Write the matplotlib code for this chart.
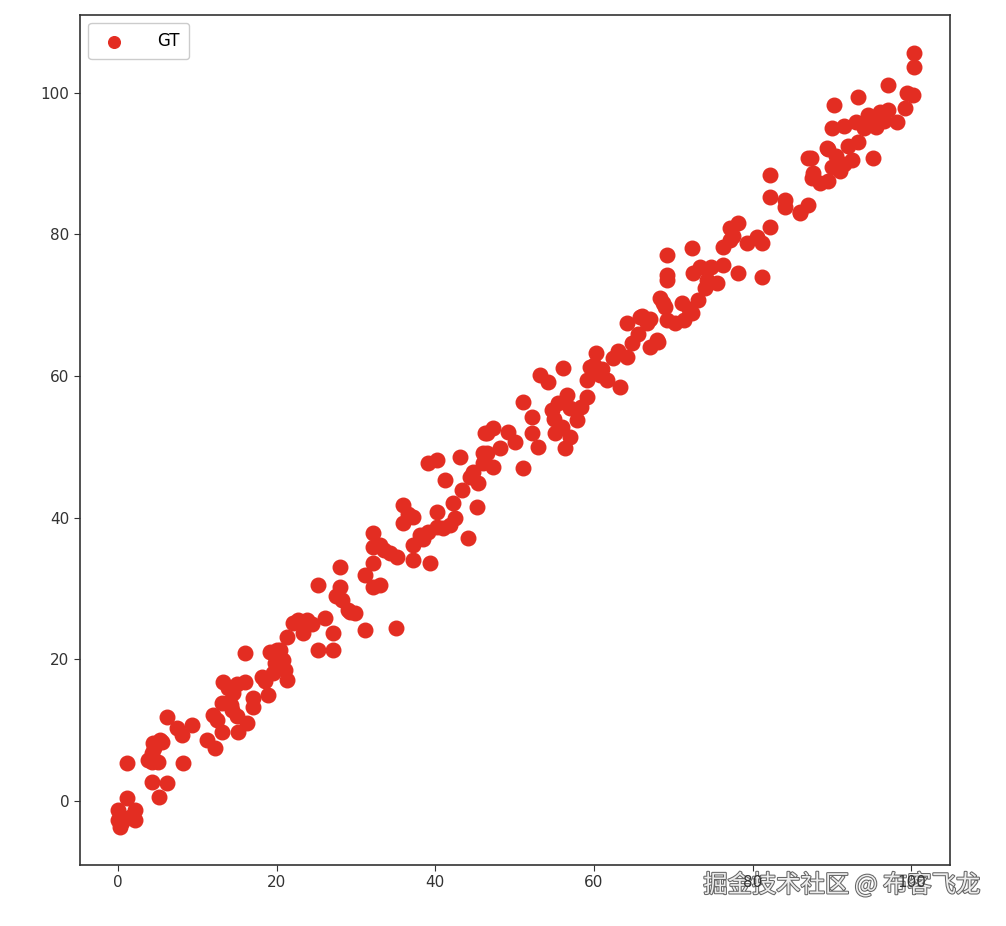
import matplotlib
matplotlib.use('Agg')
from matplotlib import pyplot as plt
import matplotlib.patheffects as pe

# points (x, y)
gt_x = [
    0, 0, 1.1, 2.1, 2.1, 0.2, 1.1, 4.3, 6.2, 5.2, 4.4, 4.3, 5.0, 4.3, 5.3, 6.2, 7.4, 8.1, 9.3, 8.2,
    11.2, 12.2, 13.1, 12.0, 13.1, 13.2, 14.5, 14.4, 16.0, 16.0, 17.0, 16.3, 15.1, 17.0, 18.9, 18.2,
    19.2, 20.4, 21.3, 22.1, 20.0, 20.8, 21.3, 19.5,
    12.5, 14, 15, 13.8, 15, 14.2, 0.5, 1.5, 4.5, 5.5, 3.8, 20.5, 19.8, 21, 18.5,
    20.0, 22.7, 23.8, 23.3, 25.2, 27.1, 27.1, 25.2, 26.1, 28.0, 28.0, 28.2, 29.9, 29.3, 31.1, 31.1,
    32.2, 33.0, 32.2, 32.2, 32.2, 33.0, 34.3, 35.2, 35.1, 35.9, 35.9, 37.2, 37.2, 37.2, 38.1, 39.1,
    39.3, 40.2, 41.9, 40.2, 39.1, 40.2, 41.2, 43.1, 42.2, 43.4, 44.1, 45.3, 44.4, 45.4, 46.0, 46.3, 46.0,
    24.5, 27.5, 29, 33.5, 36.5, 38.5, 41, 42.5, 44.8,
    46.5, 47.3, 49.1, 50.1, 48.2, 46.5, 47.3, 51.1, 51.1, 52.2, 52.2, 53.0, 53.2, 54.2, 56.1, 54.7,
    55.5, 56.0, 55.1, 56.4, 57.0, 57.9, 56.6, 58.3, 59.1, 59.1, 60.2, 59.5, 60.8, 61.7, 63.3, 62.4,
    64.2, 64.8, 64.2, 65.8, 66.7, 67.1, 68.1, 68.3, 69.0, 70.2, 69.2,
    55, 57, 60, 61, 63, 65.5, 66, 67,
    68.0, 68.7, 69.2, 71.1, 71.3, 72.4, 73.1, 69.2, 69.2, 72.4, 72.5, 73.4, 74.3, 75.5, 74.7, 76.2,
    76.2, 77.2, 78.2, 78.2, 77.2, 79.3, 80.6, 81.2, 81.2, 82.2, 82.2, 82.2, 84.1, 84.1, 86.0, 87.0,
    87.0, 87.6, 89.4,
    77.5, 74, 72,
    100.3, 100.3, 97.1, 93.3, 90.3, 99.5, 100.2, 99.2, 98.2,
    94, 95, 96, 96.5, 95.5, 97, 94.5, 90, 91.5, 93, 93.3,
    89.5, 90.5, 91.5, 92, 90, 91, 92.5, 95.2, 87.3, 87.5, 88.5, 89.5, 86,
]
gt_y = [
    -2.7, -1.3, 0.4, -1.3, -2.7, -3.6, 5.4, 2.7, 2.5, 0.6, 8.2, 6.8, 5.5, 5.5, 8.6, 11.9, 10.3, 9.3, 10.7, 5.4,
    8.6, 7.5, 9.7, 12.1, 13.8, 16.8, 15.3, 12.9, 16.8, 20.9, 14.5, 11.0, 9.7, 13.3, 15.0, 17.5,
    21.0, 21.3, 23.2, 25.1, 18.9, 19.9, 17.1, 18.1,
    11.5, 14, 12, 16, 16.5, 13.5, -3, -2.2, 7.5, 8.3, 5.8, 20, 19.5, 18.5, 17,
    21.3, 25.6, 25.6, 23.7, 21.3, 21.3, 23.7, 30.5, 25.8, 33.1, 30.2, 28.4, 26.6, 26.7, 24.2, 31.9,
    30.2, 30.5, 33.6, 37.9, 35.9, 36.2, 35.0, 34.5, 24.4, 41.8, 39.3, 40.1, 34.0, 36.2, 37.6, 38.0,
    33.6, 38.7, 39.0, 40.8, 47.7, 48.2, 45.3, 48.6, 42.1, 43.9, 37.1, 41.5, 45.8, 44.9, 49.2, 52.0, 47.7,
    25, 29, 27, 35.5, 40.5, 37, 38.5, 40, 46.5,
    52.0, 52.7, 52.1, 50.7, 49.9, 49.2, 47.2, 47.0, 56.4, 54.2, 52.0, 50.0, 60.2, 59.2, 61.2, 55.2,
    56.2, 52.8, 52.0, 49.9, 51.4, 53.8, 57.3, 55.6, 57.1, 59.5, 63.3, 61.3, 60.2, 59.5, 58.5, 62.6,
    62.7, 64.7, 67.5, 68.4, 67.5, 64.1, 64.8, 71.0, 69.8, 67.5, 73.6,
    54, 55.5, 61.5, 61, 63.5, 66, 68.5, 68,
    65.1, 70.3, 67.9, 70.3, 67.9, 68.9, 70.8, 77.1, 74.3, 78.1, 74.6, 75.4, 73.6, 73.2, 75.4, 75.7,
    78.2, 80.9, 81.6, 74.6, 79.2, 78.8, 79.7, 78.8, 74.0, 81.1, 85.3, 88.4, 84.9, 83.8, 83.2, 84.2,
    90.8, 88.7, 92.2,
    79.8, 72.5, 69.5,
    105.6, 103.7, 101.1, 99.4, 98.2, 100.0, 99.7, 97.9, 95.8,
    95, 96.5, 97.3, 96, 95.2, 97.5, 96.8, 95, 95.3, 95.8, 93,
    92, 91, 90, 92.5, 89.5, 88.9, 90.5, 90.8, 90.8, 88, 87.2, 87.5, 83,
]

ticks = [0, 20, 40, 60, 80, 100]

fig = plt.figure(figsize=(10.06, 9.26), dpi=100)
ax = fig.add_axes([0.0795, 0.066, 0.865, 0.918])

ax.scatter(gt_x, gt_y, s=110, color='#e32d22', label='GT')

ax.set_xlim(-4.8, 104.9)
ax.set_ylim(-9.0, 111.0)
ax.set_xticks(ticks)
ax.set_yticks(ticks)
ax.tick_params(labelsize=11, colors='#333333', length=4)
for sp in ax.spines.values():
    sp.set_color('#333333')
    sp.set_linewidth(1.2)

ax.legend(loc='upper left', fontsize=12, markerscale=0.8,
          handletextpad=1.6, borderpad=0.55, framealpha=1, edgecolor='#cccccc')

# watermark, drawn under the axes so the tick labels stay visible
fig.text(0.974, 0.044, '掘金技术社区 @ 布客飞龙', ha='right', va='center',
         fontsize=17.5, color='#eeeeee', zorder=-1,
         family=['Noto Sans CJK SC', 'DejaVu Sans'],
         path_effects=[pe.withStroke(linewidth=1.5, foreground='#666666')])

fig.savefig('out.png', dpi=100)
